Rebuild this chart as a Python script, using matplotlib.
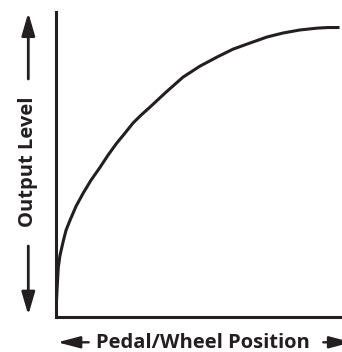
"""Response curve: output level against pedal/wheel position."""

import matplotlib

matplotlib.use("Agg")
import matplotlib.pyplot as plt

INK = "#231f20"

# Curve read as (position, level), both on a 0-100 scale
position = [0, 0.1, 0.35, 0.8, 1.4, 2.6, 3.5, 4.9, 7.0, 9.5, 12.2, 15.4, 18.2, 21.2, 24.1,
            26.9, 29.7, 32.9, 38.5, 44.4, 50.3, 56.3, 61.9, 67.8, 73.8, 79.4, 85.3, 91.3,
            95.1, 98.6]
level = [0, 3.6, 8.6, 16.1, 20.1, 25.0, 28.3, 31.6, 36.2, 40.5, 44.7, 49.0, 53.0, 56.9, 60.2,
         63.5, 66.1, 68.8, 73.7, 78.6, 82.2, 85.2, 87.8, 89.8, 91.8, 93.1, 94.1, 94.7,
         94.9, 94.9]

x_label = "Pedal/Wheel Position"
y_label = "Output Level"

W, H, DPI = 342, 352, 100


def arrow(fig, start, end, lw, head_len, head_w):
    """Filled arrow in figure pixels (origin bottom-left)."""
    fig.add_artist(
        matplotlib.patches.FancyArrowPatch(
            start,
            end,
            transform=None,
            arrowstyle=f"-|>,head_length={head_len},head_width={head_w}",
            mutation_scale=10,
            linewidth=lw,
            color=INK,
            shrinkA=0,
            shrinkB=0,
            clip_on=False,
        )
    )


def main() -> None:
    fig = plt.figure(figsize=(W / DPI, H / DPI), dpi=DPI)
    ax = fig.add_axes([56 / W, 35.5 / H, (W - 56) / W, (316.5 - 12) / H])

    ax.plot(position, level, color=INK, linewidth=2.2, solid_joinstyle="round")
    ax.set_xlim(0, 100)
    ax.set_ylim(0, 100)

    for side in ("top", "right"):
        ax.spines[side].set_visible(False)
    for side in ("left", "bottom"):
        ax.spines[side].set_linewidth(2.2)
        ax.spines[side].set_color(INK)
    ax.set_xticks([])
    ax.set_yticks([])

    font = dict(family=["Open Sans", "DejaVu Sans"], weight="bold", size=14.5, color=INK)

    # Axis titles with their direction arrows
    fig.text(33.3 / W, 190 / H, y_label, rotation=90, rotation_mode="anchor",
             ha="center", va="baseline", **font)
    fig.text(203 / W, 3.5 / H, x_label, ha="center", va="baseline", **font)

    arrow(fig, (28.3, H - 79), (28.3, H - 12.7), 2.0, 1.37, 0.4)
    arrow(fig, (28.3, H - 246), (28.3, H - 315), 2.0, 1.37, 0.4)
    arrow(fig, (88.7, H - 342.3), (57.5, H - 342.3), 1.7, 1.37, 0.36)
    arrow(fig, (323.3, H - 342.3), (351.7, H - 342.3), 1.7, 1.37, 0.36)

    fig.savefig("out.png", dpi=DPI)


if __name__ == "__main__":
    main()
